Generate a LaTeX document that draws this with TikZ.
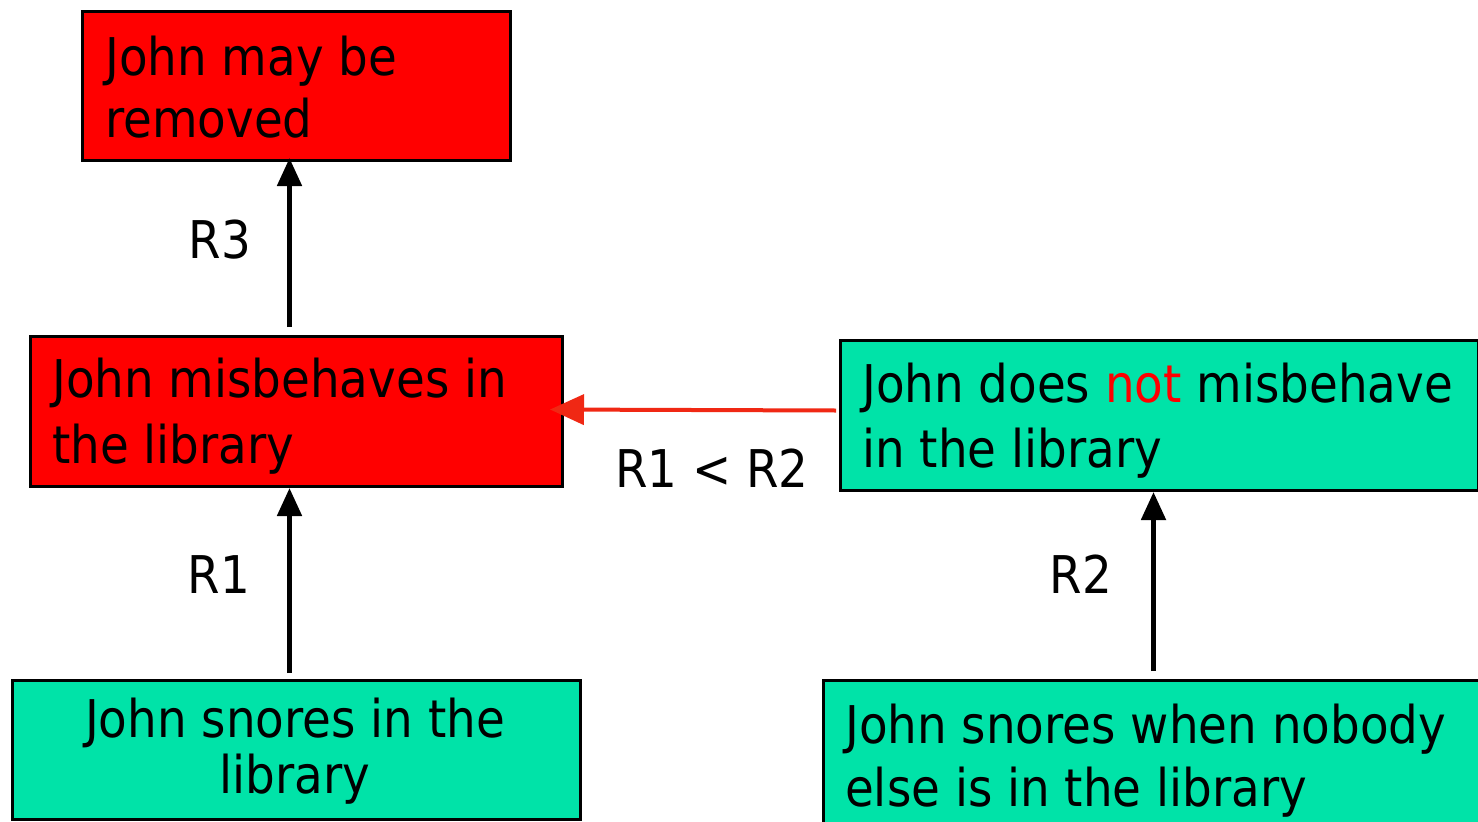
\documentclass[tikz,border=0pt]{standalone}
\usepackage{fontspec}
\setmainfont{DejaVu Sans}[FakeStretch=0.9]
\usetikzlibrary{arrows.meta,calc}
\definecolor{boxgreen}{RGB}{0,227,168}
\definecolor{boxred}{RGB}{255,0,0}
\definecolor{arrred}{RGB}{240,40,20}
\begin{document}
\begin{tikzpicture}[x=1pt,y=-1pt,
  box/.style={draw=black,line width=3pt,inner sep=0pt,anchor=north west},
  redbox/.style={box,fill=boxred},
  greenbox/.style={box,fill=boxgreen},
  txt/.style={inner sep=0pt,font=\fontsize{52}{62}\selectfont,anchor=base west},
  lbl/.style={inner sep=0pt,font=\fontsize{52}{62}\selectfont,anchor=base},
  arr/.style={line width=5pt,-{Triangle[length=28pt,width=24pt]}},
  redarr/.style={draw=arrred,line width=4pt,-{Triangle[length=34pt,width=30pt]}}]
\useasboundingbox (0,0) rectangle (1478,822);
\fill[white] (0,0) rectangle (1478,822);
% boxes
\node[redbox,minimum width=428pt,minimum height=149pt] (a) at (81,10) {};
\node[redbox,minimum width=532pt,minimum height=150pt] (b) at (29,335) {};
\node[greenbox,minimum width=638pt,minimum height=150pt] (c) at (839,339) {};
\node[greenbox,minimum width=568pt,minimum height=139pt] (d) at (11,679) {};
\node[greenbox,minimum width=680pt,minimum height=160pt] (e) at (822,679) {};
% texts (base = baseline of last line)
\node[txt,align=left,font=\fontsize{52}{62}\selectfont] (ta) at (105,137) {John may be\\removed};
\node[txt,align=left,font=\fontsize{52}{66}\selectfont] (tb) at (52,463) {John misbehaves in\\the library};
\node[txt,align=left,font=\fontsize{52}{65}\selectfont] (tc) at (862,467) {John does \textcolor{boxred}{not} misbehave\\in the library};
\node[lbl,align=center,font=\fontsize{52}{56}\selectfont] (td) at (295,793) {John snores in the\\library};
\node[txt,align=left,font=\fontsize{52}{63}\selectfont] (te) at (845,806) {John snores when nobody\\else is in the library};
% connectors
\draw[arr] ([xshift=-7pt,yshift=6pt]d.north) -- ([xshift=-7pt]b.south);
\draw[arr] ([xshift=-7pt,yshift=8pt]b.north) -- ([xshift=-7pt,yshift=4pt]a.south);
\draw[arr] ($(e.north -| c.south)+(-6,-8)$) -- ([xshift=-6pt]c.south);
\draw[redarr] ([xshift=-3pt,yshift=5pt]c.west) -- ([xshift=-14pt,yshift=2pt]b.east);
% labels
\node[lbl] (r3) at (220,258) {R3};
\node[lbl] (r1) at (219,593) {R1};
\node[lbl] (r2) at (1081,593) {R2};
\node[lbl] (r12) at (712,487) {R1 < R2};
\end{tikzpicture}
\end{document}
